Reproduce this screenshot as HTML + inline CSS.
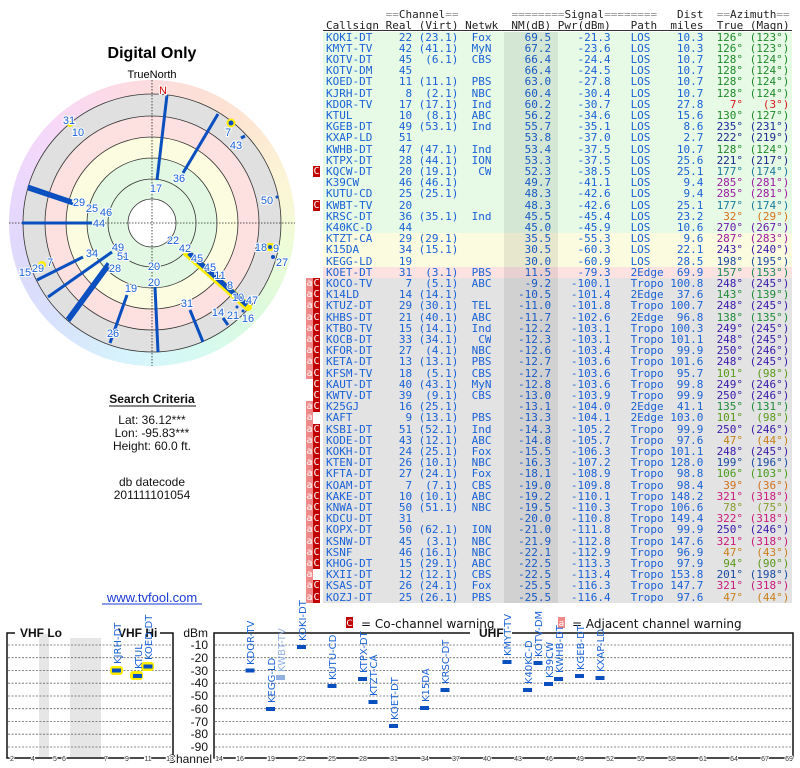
<!DOCTYPE html>
<html><head><meta charset="utf-8">
<style>
body{margin:0;width:800px;height:768px;background:#fff;position:relative;overflow:hidden;font-family:"DejaVu Sans","Liberation Sans",sans-serif;}
.abs{position:absolute;}
table.t{position:absolute;left:306px;top:31.5px;border-collapse:collapse;border-spacing:0;font-family:"DejaVu Sans Mono","Liberation Mono",monospace;font-size:11px;color:#1a62d6;table-layout:fixed;}
table.t tr{height:11.2px;}
table.t td{padding:0;border:0;height:11.2px;line-height:11.2px;white-space:pre;overflow:hidden;vertical-align:top;}
td.wa{width:7px;text-align:center;font-family:"DejaVu Sans Mono",monospace;font-size:10px;color:#fff;}
td.wc{width:7px;text-align:center;font-family:"DejaVu Sans Mono",monospace;font-size:10px;color:#fff;}
td.gap{width:3px;background:#fff;}
td.a{background:#f08a8a;} td.c{background:#c00000;} td.n{background:#fff;}
td.c1{width:59.6px;padding-left:3px !important;text-align:left;}
td.c2{width:26.5px;text-align:right;}
td.c3{width:46.3px;text-align:right;}
td.c4{width:33.1px;text-align:right;}
td.c5{width:59.6px;text-align:right;}
td.c6{width:59.6px;text-align:right;}
td.c7{width:39.7px;padding-left:19.9px !important;text-align:left;}
td.c8{width:33.1px;text-align:right;}
td.c9{width:39.7px;text-align:right;}
td.c10{width:46.3px;text-align:right;padding-right:3px !important;}
tr.g td.b{background:#e6fae6;} tr.y td.b{background:#fbfbdf;} tr.p td.b{background:#fde2e2;} tr.x td.b{background:#e3e3e3;}
.hd{position:absolute;left:326px;font-family:"DejaVu Sans Mono","Liberation Mono",monospace;font-size:11px;white-space:pre;color:#222;line-height:11px;}
.eq{color:#999;}
</style></head><body>

<svg class="abs" style="left:0;top:0" width="800" height="768" xmlns="http://www.w3.org/2000/svg">
<text x="152" y="58" text-anchor="middle" font-family="Liberation Sans,sans-serif" font-weight="bold" font-size="16">Digital Only</text>
<text x="152" y="78" text-anchor="middle" font-family="Liberation Sans,sans-serif" font-size="11">TrueNorth</text>
<foreignObject x="9" y="80" width="286" height="286"><div xmlns="http://www.w3.org/1999/xhtml" style="width:286px;height:286px;border-radius:50%;background:conic-gradient(#fcdcdc 0deg,#fde4d2 40deg,#fcf6d6 75deg,#eefcd8 100deg,#dcfadc 130deg,#d6faf2 160deg,#d6f4fc 190deg,#d8e4fc 220deg,#dcdafc 250deg,#e8d8fc 280deg,#f6d8fa 310deg,#fcdae8 340deg,#fcdcdc 360deg);"></div></foreignObject>
<circle cx="152" cy="223" r="129" fill="#e0e0e0"/>
<circle cx="152" cy="223" r="107" fill="#fde0e0"/>
<circle cx="152" cy="223" r="86" fill="#fcfce0"/>
<circle cx="152" cy="223" r="65" fill="#e2f8e2"/>
<circle cx="152" cy="223" r="24" fill="#fff"/>
<g fill="none" stroke="#333" stroke-width="0.8">
<circle cx="152" cy="223" r="129"/><circle cx="152" cy="223" r="107"/><circle cx="152" cy="223" r="86"/><circle cx="152" cy="223" r="65"/><circle cx="152" cy="223" r="44"/><circle cx="152" cy="223" r="24"/>
</g>
<g stroke="#222" stroke-width="0.8" stroke-dasharray="1.5,1.5">
<line x1="9" y1="223" x2="295" y2="223"/><line x1="152" y1="80" x2="152" y2="366"/>
</g>
<g stroke="#ffee00" stroke-width="8" stroke-linecap="round" fill="none">
<line x1="187" y1="253" x2="248" y2="307"/>
</g>
<circle cx="231" cy="123" r="4.5" fill="#ffee00"/>
<ellipse cx="270" cy="247" rx="7" ry="4" fill="#ffee00"/>
<circle cx="70" cy="124" r="3" fill="#ffee00"/>
<circle cx="42" cy="265" r="4" fill="#ffee00"/>
<g stroke="#0a4fc0" stroke-width="3" fill="none">
<line x1="167" y1="95" x2="157" y2="180"/>
<line x1="218" y1="114" x2="183" y2="173"/>
<line x1="241" y1="138" x2="245" y2="136"/>
<line x1="28" y1="186" x2="72" y2="201"/>
<line x1="28" y1="189" x2="73" y2="204"/>
<line x1="22" y1="223" x2="92" y2="223"/>
<line x1="37" y1="280" x2="83" y2="257"/>
<line x1="48" y1="297" x2="112" y2="252"/>
<line x1="67" y1="319" x2="108" y2="263"/>
<line x1="69" y1="321" x2="110" y2="265"/>
<line x1="110" y1="343" x2="127" y2="295"/>
<line x1="155" y1="287" x2="158" y2="352"/>
<line x1="190" y1="310" x2="203" y2="342"/>
<line x1="223" y1="318" x2="228" y2="325"/>
<line x1="189" y1="253" x2="247" y2="305" stroke-width="5"/>
</g>
<g fill="#0a4fc0"><circle cx="231" cy="123" r="2.5"/><circle cx="277" cy="197" r="1.5"/><circle cx="270" cy="247" r="2"/><circle cx="273" cy="257" r="2"/><circle cx="237" cy="307" r="1.5"/><circle cx="243" cy="311" r="1.5"/><circle cx="154" cy="266" r="2"/></g>
<g font-family="Liberation Sans,sans-serif" font-size="11" fill="#1a62d6" stroke="#fff" stroke-width="2" paint-order="stroke" text-anchor="middle">
<text x="163" y="94" fill="#d00000">N</text>
<text x="156" y="192">17</text><text x="179" y="182">36</text><text x="228" y="136">7</text><text x="236" y="149">43</text>
<text x="267" y="204">50</text><text x="261" y="251">18</text><text x="276" y="252">9</text><text x="282" y="266">27</text>
<text x="69" y="124">31</text><text x="78" y="136">10</text>
<text x="79" y="206">29</text><text x="92" y="212">25</text><text x="106" y="216">46</text><text x="99" y="227">44</text>
<text x="92" y="257">34</text><text x="118" y="251">49</text><text x="123" y="260">51</text><text x="115" y="272">28</text>
<text x="131" y="292">19</text><text x="113" y="337">26</text><text x="154" y="270">20</text><text x="154" y="286">20</text>
<text x="187" y="307">31</text><text x="218" y="316">14</text><text x="233" y="319">21</text><text x="248" y="322">16</text>
<text x="25" y="276">15</text><text x="38" y="272">29</text><text x="50" y="266">7</text>
<text x="173" y="244">22</text><text x="185" y="252">42</text><text x="197" y="262">45</text><text x="210" y="271">45</text><text x="220" y="279">11</text><text x="230" y="289">8</text><text x="238" y="301">10</text><text x="252" y="304">47</text>
</g>
<g font-family="Liberation Sans,sans-serif" font-size="12" text-anchor="middle" fill="#111">
<text x="152" y="403" font-weight="bold">Search Criteria</text>
<line x1="109" y1="406" x2="196" y2="406" stroke="#111" stroke-width="1"/>
<text x="152" y="424">Lat: 36.12***</text><text x="152" y="437">Lon: -95.83***</text><text x="152" y="450">Height: 60.0 ft.</text>
<text x="152" y="486">db datecode</text><text x="152" y="499">201111101054</text>
<text x="152" y="602" font-size="13" fill="#1a3ad6">www.tvfool.com</text>
<line x1="102" y1="604" x2="202" y2="604" stroke="#1a3ad6" stroke-width="1"/>
</g>
<rect x="346" y="617" width="7" height="11" fill="#c00000"/><text x="349.5" y="626" font-size="9" fill="#fff" text-anchor="middle">C</text>
<text x="361" y="628" font-size="12" fill="#111">= Co-channel warning</text>
<rect x="558" y="617" width="7" height="11" fill="#f08a8a"/><text x="561.5" y="626" font-size="9" fill="#fff" text-anchor="middle">a</text>
<text x="572" y="628" font-size="12" fill="#111">= Adjacent channel warning</text>
<rect x="39" y="634" width="10" height="123" fill="#e6e6e6"/>
<rect x="70" y="634" width="31" height="123" fill="#e6e6e6"/>
<g stroke="#666" stroke-width="0.8" stroke-dasharray="2,1.5">
<line x1="8" y1="645" x2="173" y2="645"/><line x1="8" y1="657.7" x2="173" y2="657.7"/><line x1="8" y1="670.5" x2="173" y2="670.5"/><line x1="8" y1="683.2" x2="173" y2="683.2"/><line x1="8" y1="696" x2="173" y2="696"/><line x1="8" y1="708.7" x2="173" y2="708.7"/><line x1="8" y1="721.5" x2="173" y2="721.5"/><line x1="8" y1="734.2" x2="173" y2="734.2"/><line x1="8" y1="747" x2="173" y2="747"/>
<line x1="215" y1="645" x2="792" y2="645"/><line x1="215" y1="657.7" x2="792" y2="657.7"/><line x1="215" y1="670.5" x2="792" y2="670.5"/><line x1="215" y1="683.2" x2="792" y2="683.2"/><line x1="215" y1="696" x2="792" y2="696"/><line x1="215" y1="708.7" x2="792" y2="708.7"/><line x1="215" y1="721.5" x2="792" y2="721.5"/><line x1="215" y1="734.2" x2="792" y2="734.2"/><line x1="215" y1="747" x2="792" y2="747"/>
</g>
<g fill="none" stroke="#111" stroke-width="1.5">
<path d="M15,633 H7 V758 H173 V633 H160"/><path d="M63,633 H106"/>
<path d="M470,633 H214 V758 H793 V633 H512"/>
</g>
<rect x="60" y="626" width="50" height="12" fill="#fff"/>
<g font-family="Liberation Sans,sans-serif" font-weight="bold" font-size="12" fill="#111">
<text x="20" y="637">VHF Lo</text><text x="118" y="637">VHF Hi</text><text x="479" y="637">UHF</text>
</g>
<g font-family="Liberation Sans,sans-serif" font-size="12" fill="#111" text-anchor="end">
<text x="208" y="637">dBm</text>
<text x="208" y="649">-10</text><text x="208" y="662">-20</text><text x="208" y="675">-30</text><text x="208" y="687">-40</text><text x="208" y="700">-50</text><text x="208" y="713">-60</text><text x="208" y="726">-70</text><text x="208" y="738">-80</text><text x="208" y="751">-90</text>
<text x="212" y="763">Channel</text>
</g>
<g font-family="Liberation Sans,sans-serif" font-size="7" fill="#333" text-anchor="middle" stroke="#fff" stroke-width="2" paint-order="stroke">
<text x="12" y="761">2</text><text x="33" y="761">4</text><text x="55" y="761">5</text><text x="64" y="761">6</text><text x="106" y="761">7</text><text x="127" y="761">9</text><text x="148" y="761">11</text><text x="170" y="761">13</text>
<text x="219" y="761">14</text><text x="240" y="761">16</text><text x="271" y="761">19</text><text x="302" y="761">22</text><text x="332" y="761">25</text><text x="363" y="761">28</text><text x="394" y="761">31</text><text x="425" y="761">34</text><text x="456" y="761">37</text><text x="487" y="761">40</text><text x="518" y="761">43</text><text x="549" y="761">46</text><text x="580" y="761">49</text><text x="610" y="761">52</text><text x="641" y="761">55</text><text x="672" y="761">58</text><text x="703" y="761">61</text><text x="734" y="761">64</text><text x="765" y="761">67</text><text x="789" y="761">69</text>
</g>
<g fill="#ffee00"><rect x="110" y="666" width="13" height="9" rx="3"/><rect x="130" y="671" width="13" height="9" rx="3"/><rect x="141" y="662" width="13" height="9" rx="3"/></g>
<g fill="#0a4fc0">
<rect x="112" y="668.5" width="9" height="4"/><rect x="133" y="674" width="9" height="4"/><rect x="143.5" y="664.5" width="9" height="4"/>
<rect x="245.5" y="668.5" width="9" height="4"/><rect x="266" y="707" width="9" height="4"/><rect x="297" y="645" width="9" height="4"/><rect x="327.5" y="684" width="9" height="4"/><rect x="358" y="677" width="9" height="4"/><rect x="368.5" y="700" width="9" height="4"/><rect x="389" y="724" width="9" height="4"/><rect x="420" y="706" width="9" height="4"/><rect x="440.5" y="688" width="9" height="4"/><rect x="502.5" y="660" width="9" height="4"/><rect x="523" y="688" width="9" height="4"/><rect x="533.5" y="661" width="9" height="4"/><rect x="544" y="682" width="9" height="4"/><rect x="554" y="677" width="9" height="4"/><rect x="575" y="674" width="9" height="4"/><rect x="595.5" y="676" width="9" height="4"/>
</g>
<rect x="276" y="675" width="9" height="5" fill="#8fb0e0"/>
<g font-family="DejaVu Sans,sans-serif" font-size="10" fill="#1a62d6">
<text transform="translate(121,664) rotate(-90)">KJRH-DT</text>
<text transform="translate(142,669) rotate(-90)">KTUL</text>
<text transform="translate(152,660) rotate(-90)">KOED-DT</text>
<text transform="translate(254,665) rotate(-90)">KDOR-TV</text>
<text transform="translate(275,703) rotate(-90)">KEGG-LD</text>
<text transform="translate(285,672) rotate(-90)" fill="#8fb0e0">KWBT-TV</text>
<text transform="translate(306,641) rotate(-90)">KOKI-DT</text>
<text transform="translate(336,680) rotate(-90)">KUTU-CD</text>
<text transform="translate(367,673) rotate(-90)">KTPX-DT</text>
<text transform="translate(377,696) rotate(-90)">KTZT-CA</text>
<text transform="translate(398,720) rotate(-90)">KOET-DT</text>
<text transform="translate(429,702) rotate(-90)">K15DA</text>
<text transform="translate(449,684) rotate(-90)">KRSC-DT</text>
<text transform="translate(511,656) rotate(-90)">KMYT-TV</text>
<text transform="translate(532,684) rotate(-90)">K40KC-D</text>
<text transform="translate(542,657) rotate(-90)">KOTV-DM</text>
<text transform="translate(553,678) rotate(-90)">K39CW</text>
<text transform="translate(563,673) rotate(-90)">KWHB-DT</text>
<text transform="translate(584,670) rotate(-90)">KGEB-DT</text>
<text transform="translate(604,672) rotate(-90)">KXAP-LD</text>
</g>
</svg>

<div class="hd" style="top:9px"><span class="eq">         ==</span>Channel<span class="eq">==</span>        <span class="eq">========</span>Signal<span class="eq">========</span>   Dist  <span class="eq">==</span>Azimuth<span class="eq">==</span></div>
<div class="hd" style="top:20px">Callsign Real (Virt) Netwk  NM(dB) Pwr(dBm)   Path  miles  True (Magn)</div>
<div class="abs" style="left:323px;top:30px;width:469px;height:1px;background:#333"></div>

<table class="t">
<tr class="g"><td class="wa n"></td><td class="wc n"></td><td class="gap"></td><td class="b c1">KOKI-DT</td><td class="b c2">22</td><td class="b c3">(23.1)</td><td class="b c4">Fox</td><td class="b c5">69.5</td><td class="b c6">-21.3</td><td class="b c7">LOS</td><td class="b c8">10.3</td><td class="b c9" style="color:#1f8a2a">126°</td><td class="b c10" style="color:#1f8a2a">(123°)</td></tr>
<tr class="g"><td class="wa n"></td><td class="wc n"></td><td class="gap"></td><td class="b c1">KMYT-TV</td><td class="b c2">42</td><td class="b c3">(41.1)</td><td class="b c4">MyN</td><td class="b c5">67.2</td><td class="b c6">-23.6</td><td class="b c7">LOS</td><td class="b c8">10.3</td><td class="b c9" style="color:#1f8a2a">126°</td><td class="b c10" style="color:#1f8a2a">(123°)</td></tr>
<tr class="g"><td class="wa n"></td><td class="wc n"></td><td class="gap"></td><td class="b c1">KOTV-DT</td><td class="b c2">45</td><td class="b c3">(6.1)</td><td class="b c4">CBS</td><td class="b c5">66.4</td><td class="b c6">-24.4</td><td class="b c7">LOS</td><td class="b c8">10.7</td><td class="b c9" style="color:#1f8a2a">128°</td><td class="b c10" style="color:#1f8a2a">(124°)</td></tr>
<tr class="g"><td class="wa n"></td><td class="wc n"></td><td class="gap"></td><td class="b c1">KOTV-DM</td><td class="b c2">45</td><td class="b c3"></td><td class="b c4"></td><td class="b c5">66.4</td><td class="b c6">-24.5</td><td class="b c7">LOS</td><td class="b c8">10.7</td><td class="b c9" style="color:#1f8a2a">128°</td><td class="b c10" style="color:#1f8a2a">(124°)</td></tr>
<tr class="g"><td class="wa n"></td><td class="wc n"></td><td class="gap"></td><td class="b c1">KOED-DT</td><td class="b c2">11</td><td class="b c3">(11.1)</td><td class="b c4">PBS</td><td class="b c5">63.0</td><td class="b c6">-27.8</td><td class="b c7">LOS</td><td class="b c8">10.7</td><td class="b c9" style="color:#1f8a2a">128°</td><td class="b c10" style="color:#1f8a2a">(124°)</td></tr>
<tr class="g"><td class="wa n"></td><td class="wc n"></td><td class="gap"></td><td class="b c1">KJRH-DT</td><td class="b c2">8</td><td class="b c3">(2.1)</td><td class="b c4">NBC</td><td class="b c5">60.4</td><td class="b c6">-30.4</td><td class="b c7">LOS</td><td class="b c8">10.7</td><td class="b c9" style="color:#1f8a2a">128°</td><td class="b c10" style="color:#1f8a2a">(124°)</td></tr>
<tr class="g"><td class="wa n"></td><td class="wc n"></td><td class="gap"></td><td class="b c1">KDOR-TV</td><td class="b c2">17</td><td class="b c3">(17.1)</td><td class="b c4">Ind</td><td class="b c5">60.2</td><td class="b c6">-30.7</td><td class="b c7">LOS</td><td class="b c8">27.8</td><td class="b c9" style="color:#d81a1a">7°</td><td class="b c10" style="color:#d81a1a">(3°)</td></tr>
<tr class="g"><td class="wa n"></td><td class="wc n"></td><td class="gap"></td><td class="b c1">KTUL</td><td class="b c2">10</td><td class="b c3">(8.1)</td><td class="b c4">ABC</td><td class="b c5">56.2</td><td class="b c6">-34.6</td><td class="b c7">LOS</td><td class="b c8">15.6</td><td class="b c9" style="color:#1f8a2a">130°</td><td class="b c10" style="color:#1f8a2a">(127°)</td></tr>
<tr class="g"><td class="wa n"></td><td class="wc n"></td><td class="gap"></td><td class="b c1">KGEB-DT</td><td class="b c2">49</td><td class="b c3">(53.1)</td><td class="b c4">Ind</td><td class="b c5">55.7</td><td class="b c6">-35.1</td><td class="b c7">LOS</td><td class="b c8">8.6</td><td class="b c9" style="color:#1a2a9a">235°</td><td class="b c10" style="color:#1a2a9a">(231°)</td></tr>
<tr class="g"><td class="wa n"></td><td class="wc n"></td><td class="gap"></td><td class="b c1">KXAP-LD</td><td class="b c2">51</td><td class="b c3"></td><td class="b c4"></td><td class="b c5">53.8</td><td class="b c6">-37.0</td><td class="b c7">LOS</td><td class="b c8">2.7</td><td class="b c9" style="color:#1a2a8a">222°</td><td class="b c10" style="color:#1a2a8a">(219°)</td></tr>
<tr class="g"><td class="wa n"></td><td class="wc n"></td><td class="gap"></td><td class="b c1">KWHB-DT</td><td class="b c2">47</td><td class="b c3">(47.1)</td><td class="b c4">Ind</td><td class="b c5">53.4</td><td class="b c6">-37.5</td><td class="b c7">LOS</td><td class="b c8">10.7</td><td class="b c9" style="color:#1f8a2a">128°</td><td class="b c10" style="color:#1f8a2a">(124°)</td></tr>
<tr class="g"><td class="wa n"></td><td class="wc n"></td><td class="gap"></td><td class="b c1">KTPX-DT</td><td class="b c2">28</td><td class="b c3">(44.1)</td><td class="b c4">ION</td><td class="b c5">53.3</td><td class="b c6">-37.5</td><td class="b c7">LOS</td><td class="b c8">25.6</td><td class="b c9" style="color:#1a2a8a">221°</td><td class="b c10" style="color:#1a2a8a">(217°)</td></tr>
<tr class="g"><td class="wa n"></td><td class="wc c">C</td><td class="gap"></td><td class="b c1">KQCW-DT</td><td class="b c2">20</td><td class="b c3">(19.1)</td><td class="b c4">CW</td><td class="b c5">52.3</td><td class="b c6">-38.5</td><td class="b c7">LOS</td><td class="b c8">25.1</td><td class="b c9" style="color:#1a7a9a">177°</td><td class="b c10" style="color:#1a7a9a">(174°)</td></tr>
<tr class="g"><td class="wa n"></td><td class="wc n"></td><td class="gap"></td><td class="b c1">K39CW</td><td class="b c2">46</td><td class="b c3">(46.1)</td><td class="b c4"></td><td class="b c5">49.7</td><td class="b c6">-41.1</td><td class="b c7">LOS</td><td class="b c8">9.4</td><td class="b c9" style="color:#9a1aa0">285°</td><td class="b c10" style="color:#9a1aa0">(281°)</td></tr>
<tr class="g"><td class="wa n"></td><td class="wc n"></td><td class="gap"></td><td class="b c1">KUTU-CD</td><td class="b c2">25</td><td class="b c3">(25.1)</td><td class="b c4"></td><td class="b c5">48.3</td><td class="b c6">-42.6</td><td class="b c7">LOS</td><td class="b c8">9.4</td><td class="b c9" style="color:#9a1aa0">285°</td><td class="b c10" style="color:#9a1aa0">(281°)</td></tr>
<tr class="g"><td class="wa n"></td><td class="wc c">C</td><td class="gap"></td><td class="b c1">KWBT-TV</td><td class="b c2">20</td><td class="b c3"></td><td class="b c4"></td><td class="b c5">48.3</td><td class="b c6">-42.6</td><td class="b c7">LOS</td><td class="b c8">25.1</td><td class="b c9" style="color:#1a7a9a">177°</td><td class="b c10" style="color:#1a7a9a">(174°)</td></tr>
<tr class="g"><td class="wa n"></td><td class="wc n"></td><td class="gap"></td><td class="b c1">KRSC-DT</td><td class="b c2">36</td><td class="b c3">(35.1)</td><td class="b c4">Ind</td><td class="b c5">45.5</td><td class="b c6">-45.4</td><td class="b c7">LOS</td><td class="b c8">23.2</td><td class="b c9" style="color:#d8701a">32°</td><td class="b c10" style="color:#d8701a">(29°)</td></tr>
<tr class="g"><td class="wa n"></td><td class="wc n"></td><td class="gap"></td><td class="b c1">K40KC-D</td><td class="b c2">44</td><td class="b c3"></td><td class="b c4"></td><td class="b c5">45.0</td><td class="b c6">-45.9</td><td class="b c7">LOS</td><td class="b c8">10.6</td><td class="b c9" style="color:#6a1aa8">270°</td><td class="b c10" style="color:#6a1aa8">(267°)</td></tr>
<tr class="y"><td class="wa n"></td><td class="wc n"></td><td class="gap"></td><td class="b c1">KTZT-CA</td><td class="b c2">29</td><td class="b c3">(29.1)</td><td class="b c4"></td><td class="b c5">35.5</td><td class="b c6">-55.3</td><td class="b c7">LOS</td><td class="b c8">9.6</td><td class="b c9" style="color:#9a1aa0">287°</td><td class="b c10" style="color:#9a1aa0">(283°)</td></tr>
<tr class="y"><td class="wa n"></td><td class="wc n"></td><td class="gap"></td><td class="b c1">K15DA</td><td class="b c2">34</td><td class="b c3">(15.1)</td><td class="b c4"></td><td class="b c5">30.5</td><td class="b c6">-60.3</td><td class="b c7">LOS</td><td class="b c8">22.1</td><td class="b c9" style="color:#3a1aa8">243°</td><td class="b c10" style="color:#3a1aa8">(240°)</td></tr>
<tr class="y"><td class="wa n"></td><td class="wc n"></td><td class="gap"></td><td class="b c1">KEGG-LD</td><td class="b c2">19</td><td class="b c3"></td><td class="b c4"></td><td class="b c5">30.0</td><td class="b c6">-60.9</td><td class="b c7">LOS</td><td class="b c8">28.5</td><td class="b c9" style="color:#1a4aa0">198°</td><td class="b c10" style="color:#1a4aa0">(195°)</td></tr>
<tr class="p"><td class="wa n"></td><td class="wc n"></td><td class="gap"></td><td class="b c1">KOET-DT</td><td class="b c2">31</td><td class="b c3">(3.1)</td><td class="b c4">PBS</td><td class="b c5">11.5</td><td class="b c6">-79.3</td><td class="b c7">2Edge</td><td class="b c8">69.9</td><td class="b c9" style="color:#1a8a5a">157°</td><td class="b c10" style="color:#1a8a5a">(153°)</td></tr>
<tr class="x"><td class="wa a">a</td><td class="wc c">C</td><td class="gap"></td><td class="b c1">KOCO-TV</td><td class="b c2">7</td><td class="b c3">(5.1)</td><td class="b c4">ABC</td><td class="b c5">-9.2</td><td class="b c6">-100.1</td><td class="b c7">Tropo</td><td class="b c8">100.8</td><td class="b c9" style="color:#3a1aa8">248°</td><td class="b c10" style="color:#3a1aa8">(245°)</td></tr>
<tr class="x"><td class="wa a">a</td><td class="wc c">C</td><td class="gap"></td><td class="b c1">K14LD</td><td class="b c2">14</td><td class="b c3">(14.1)</td><td class="b c4"></td><td class="b c5">-10.5</td><td class="b c6">-101.4</td><td class="b c7">2Edge</td><td class="b c8">37.6</td><td class="b c9" style="color:#1f8a3a">143°</td><td class="b c10" style="color:#1f8a3a">(139°)</td></tr>
<tr class="x"><td class="wa a">a</td><td class="wc c">C</td><td class="gap"></td><td class="b c1">KTUZ-DT</td><td class="b c2">29</td><td class="b c3">(30.1)</td><td class="b c4">TEL</td><td class="b c5">-11.0</td><td class="b c6">-101.8</td><td class="b c7">Tropo</td><td class="b c8">100.7</td><td class="b c9" style="color:#3a1aa8">248°</td><td class="b c10" style="color:#3a1aa8">(245°)</td></tr>
<tr class="x"><td class="wa a">a</td><td class="wc c">C</td><td class="gap"></td><td class="b c1">KHBS-DT</td><td class="b c2">21</td><td class="b c3">(40.1)</td><td class="b c4">ABC</td><td class="b c5">-11.7</td><td class="b c6">-102.6</td><td class="b c7">2Edge</td><td class="b c8">96.8</td><td class="b c9" style="color:#1f8a3a">138°</td><td class="b c10" style="color:#1f8a3a">(135°)</td></tr>
<tr class="x"><td class="wa a">a</td><td class="wc c">C</td><td class="gap"></td><td class="b c1">KTBO-TV</td><td class="b c2">15</td><td class="b c3">(14.1)</td><td class="b c4">Ind</td><td class="b c5">-12.2</td><td class="b c6">-103.1</td><td class="b c7">Tropo</td><td class="b c8">100.3</td><td class="b c9" style="color:#3a1aa8">249°</td><td class="b c10" style="color:#3a1aa8">(245°)</td></tr>
<tr class="x"><td class="wa a">a</td><td class="wc c">C</td><td class="gap"></td><td class="b c1">KOCB-DT</td><td class="b c2">33</td><td class="b c3">(34.1)</td><td class="b c4">CW</td><td class="b c5">-12.3</td><td class="b c6">-103.1</td><td class="b c7">Tropo</td><td class="b c8">101.1</td><td class="b c9" style="color:#3a1aa8">248°</td><td class="b c10" style="color:#3a1aa8">(245°)</td></tr>
<tr class="x"><td class="wa a">a</td><td class="wc c">C</td><td class="gap"></td><td class="b c1">KFOR-DT</td><td class="b c2">27</td><td class="b c3">(4.1)</td><td class="b c4">NBC</td><td class="b c5">-12.6</td><td class="b c6">-103.4</td><td class="b c7">Tropo</td><td class="b c8">99.9</td><td class="b c9" style="color:#3a1aa8">250°</td><td class="b c10" style="color:#3a1aa8">(246°)</td></tr>
<tr class="x"><td class="wa a">a</td><td class="wc c">C</td><td class="gap"></td><td class="b c1">KETA-DT</td><td class="b c2">13</td><td class="b c3">(13.1)</td><td class="b c4">PBS</td><td class="b c5">-12.7</td><td class="b c6">-103.6</td><td class="b c7">Tropo</td><td class="b c8">101.6</td><td class="b c9" style="color:#3a1aa8">248°</td><td class="b c10" style="color:#3a1aa8">(245°)</td></tr>
<tr class="x"><td class="wa a">a</td><td class="wc c">C</td><td class="gap"></td><td class="b c1">KFSM-TV</td><td class="b c2">18</td><td class="b c3">(5.1)</td><td class="b c4">CBS</td><td class="b c5">-12.7</td><td class="b c6">-103.6</td><td class="b c7">Tropo</td><td class="b c8">95.7</td><td class="b c9" style="color:#5a9a1a">101°</td><td class="b c10" style="color:#5a9a1a">(98°)</td></tr>
<tr class="x"><td class="wa n"></td><td class="wc c">C</td><td class="gap"></td><td class="b c1">KAUT-DT</td><td class="b c2">40</td><td class="b c3">(43.1)</td><td class="b c4">MyN</td><td class="b c5">-12.8</td><td class="b c6">-103.6</td><td class="b c7">Tropo</td><td class="b c8">99.8</td><td class="b c9" style="color:#3a1aa8">249°</td><td class="b c10" style="color:#3a1aa8">(246°)</td></tr>
<tr class="x"><td class="wa n"></td><td class="wc c">C</td><td class="gap"></td><td class="b c1">KWTV-DT</td><td class="b c2">39</td><td class="b c3">(9.1)</td><td class="b c4">CBS</td><td class="b c5">-13.0</td><td class="b c6">-103.9</td><td class="b c7">Tropo</td><td class="b c8">99.9</td><td class="b c9" style="color:#3a1aa8">250°</td><td class="b c10" style="color:#3a1aa8">(246°)</td></tr>
<tr class="x"><td class="wa a">a</td><td class="wc c">C</td><td class="gap"></td><td class="b c1">K25GJ</td><td class="b c2">16</td><td class="b c3">(25.1)</td><td class="b c4"></td><td class="b c5">-13.1</td><td class="b c6">-104.0</td><td class="b c7">2Edge</td><td class="b c8">41.1</td><td class="b c9" style="color:#1f8a3a">135°</td><td class="b c10" style="color:#1f8a3a">(131°)</td></tr>
<tr class="x"><td class="wa a">a</td><td class="wc n"></td><td class="gap"></td><td class="b c1">KAFT</td><td class="b c2">9</td><td class="b c3">(13.1)</td><td class="b c4">PBS</td><td class="b c5">-13.3</td><td class="b c6">-104.1</td><td class="b c7">2Edge</td><td class="b c8">103.0</td><td class="b c9" style="color:#5a9a1a">101°</td><td class="b c10" style="color:#5a9a1a">(98°)</td></tr>
<tr class="x"><td class="wa a">a</td><td class="wc c">C</td><td class="gap"></td><td class="b c1">KSBI-DT</td><td class="b c2">51</td><td class="b c3">(52.1)</td><td class="b c4">Ind</td><td class="b c5">-14.3</td><td class="b c6">-105.2</td><td class="b c7">Tropo</td><td class="b c8">99.9</td><td class="b c9" style="color:#3a1aa8">250°</td><td class="b c10" style="color:#3a1aa8">(246°)</td></tr>
<tr class="x"><td class="wa a">a</td><td class="wc c">C</td><td class="gap"></td><td class="b c1">KODE-DT</td><td class="b c2">43</td><td class="b c3">(12.1)</td><td class="b c4">ABC</td><td class="b c5">-14.8</td><td class="b c6">-105.7</td><td class="b c7">Tropo</td><td class="b c8">97.6</td><td class="b c9" style="color:#c8801a">47°</td><td class="b c10" style="color:#c8801a">(44°)</td></tr>
<tr class="x"><td class="wa a">a</td><td class="wc c">C</td><td class="gap"></td><td class="b c1">KOKH-DT</td><td class="b c2">24</td><td class="b c3">(25.1)</td><td class="b c4">Fox</td><td class="b c5">-15.5</td><td class="b c6">-106.3</td><td class="b c7">Tropo</td><td class="b c8">101.1</td><td class="b c9" style="color:#3a1aa8">248°</td><td class="b c10" style="color:#3a1aa8">(245°)</td></tr>
<tr class="x"><td class="wa a">a</td><td class="wc c">C</td><td class="gap"></td><td class="b c1">KTEN-DT</td><td class="b c2">26</td><td class="b c3">(10.1)</td><td class="b c4">NBC</td><td class="b c5">-16.3</td><td class="b c6">-107.2</td><td class="b c7">Tropo</td><td class="b c8">128.0</td><td class="b c9" style="color:#1a4aa0">199°</td><td class="b c10" style="color:#1a4aa0">(196°)</td></tr>
<tr class="x"><td class="wa a">a</td><td class="wc c">C</td><td class="gap"></td><td class="b c1">KFTA-DT</td><td class="b c2">27</td><td class="b c3">(24.1)</td><td class="b c4">Fox</td><td class="b c5">-18.1</td><td class="b c6">-108.9</td><td class="b c7">Tropo</td><td class="b c8">98.8</td><td class="b c9" style="color:#4a9a1a">106°</td><td class="b c10" style="color:#4a9a1a">(103°)</td></tr>
<tr class="x"><td class="wa a">a</td><td class="wc c">C</td><td class="gap"></td><td class="b c1">KOAM-DT</td><td class="b c2">7</td><td class="b c3">(7.1)</td><td class="b c4">CBS</td><td class="b c5">-19.0</td><td class="b c6">-109.8</td><td class="b c7">Tropo</td><td class="b c8">98.4</td><td class="b c9" style="color:#d0701a">39°</td><td class="b c10" style="color:#d0701a">(36°)</td></tr>
<tr class="x"><td class="wa a">a</td><td class="wc c">C</td><td class="gap"></td><td class="b c1">KAKE-DT</td><td class="b c2">10</td><td class="b c3">(10.1)</td><td class="b c4">ABC</td><td class="b c5">-19.2</td><td class="b c6">-110.1</td><td class="b c7">Tropo</td><td class="b c8">148.2</td><td class="b c9" style="color:#c81a7a">321°</td><td class="b c10" style="color:#c81a7a">(318°)</td></tr>
<tr class="x"><td class="wa a">a</td><td class="wc c">C</td><td class="gap"></td><td class="b c1">KNWA-DT</td><td class="b c2">50</td><td class="b c3">(51.1)</td><td class="b c4">NBC</td><td class="b c5">-19.5</td><td class="b c6">-110.3</td><td class="b c7">Tropo</td><td class="b c8">106.6</td><td class="b c9" style="color:#8a9a2a">78°</td><td class="b c10" style="color:#8a9a2a">(75°)</td></tr>
<tr class="x"><td class="wa a">a</td><td class="wc c">C</td><td class="gap"></td><td class="b c1">KDCU-DT</td><td class="b c2">31</td><td class="b c3"></td><td class="b c4"></td><td class="b c5">-20.0</td><td class="b c6">-110.8</td><td class="b c7">Tropo</td><td class="b c8">149.4</td><td class="b c9" style="color:#c81a7a">322°</td><td class="b c10" style="color:#c81a7a">(318°)</td></tr>
<tr class="x"><td class="wa a">a</td><td class="wc c">C</td><td class="gap"></td><td class="b c1">KOPX-DT</td><td class="b c2">50</td><td class="b c3">(62.1)</td><td class="b c4">ION</td><td class="b c5">-21.0</td><td class="b c6">-111.8</td><td class="b c7">Tropo</td><td class="b c8">99.9</td><td class="b c9" style="color:#3a1aa8">250°</td><td class="b c10" style="color:#3a1aa8">(246°)</td></tr>
<tr class="x"><td class="wa a">a</td><td class="wc c">C</td><td class="gap"></td><td class="b c1">KSNW-DT</td><td class="b c2">45</td><td class="b c3">(3.1)</td><td class="b c4">NBC</td><td class="b c5">-21.9</td><td class="b c6">-112.8</td><td class="b c7">Tropo</td><td class="b c8">147.6</td><td class="b c9" style="color:#c81a7a">321°</td><td class="b c10" style="color:#c81a7a">(318°)</td></tr>
<tr class="x"><td class="wa a">a</td><td class="wc c">C</td><td class="gap"></td><td class="b c1">KSNF</td><td class="b c2">46</td><td class="b c3">(16.1)</td><td class="b c4">NBC</td><td class="b c5">-22.1</td><td class="b c6">-112.9</td><td class="b c7">Tropo</td><td class="b c8">96.9</td><td class="b c9" style="color:#c8801a">47°</td><td class="b c10" style="color:#c8801a">(43°)</td></tr>
<tr class="x"><td class="wa a">a</td><td class="wc c">C</td><td class="gap"></td><td class="b c1">KHOG-DT</td><td class="b c2">15</td><td class="b c3">(29.1)</td><td class="b c4">ABC</td><td class="b c5">-22.5</td><td class="b c6">-113.3</td><td class="b c7">Tropo</td><td class="b c8">97.9</td><td class="b c9" style="color:#5a9a1a">94°</td><td class="b c10" style="color:#5a9a1a">(90°)</td></tr>
<tr class="x"><td class="wa a">a</td><td class="wc n"></td><td class="gap"></td><td class="b c1">KXII-DT</td><td class="b c2">12</td><td class="b c3">(12.1)</td><td class="b c4">CBS</td><td class="b c5">-22.5</td><td class="b c6">-113.4</td><td class="b c7">Tropo</td><td class="b c8">153.8</td><td class="b c9" style="color:#1a4aa0">201°</td><td class="b c10" style="color:#1a4aa0">(198°)</td></tr>
<tr class="x"><td class="wa a">a</td><td class="wc c">C</td><td class="gap"></td><td class="b c1">KSAS-DT</td><td class="b c2">26</td><td class="b c3">(24.1)</td><td class="b c4">Fox</td><td class="b c5">-25.5</td><td class="b c6">-116.3</td><td class="b c7">Tropo</td><td class="b c8">147.7</td><td class="b c9" style="color:#c81a7a">321°</td><td class="b c10" style="color:#c81a7a">(318°)</td></tr>
<tr class="x"><td class="wa a">a</td><td class="wc c">C</td><td class="gap"></td><td class="b c1">KOZJ-DT</td><td class="b c2">25</td><td class="b c3">(26.1)</td><td class="b c4">PBS</td><td class="b c5">-25.5</td><td class="b c6">-116.4</td><td class="b c7">Tropo</td><td class="b c8">97.6</td><td class="b c9" style="color:#c8801a">47°</td><td class="b c10" style="color:#c8801a">(44°)</td></tr>
</table>
<div class="abs" style="left:504px;top:31.5px;width:54px;height:571px;background:rgba(0,0,0,0.08);pointer-events:none"></div>
</body></html>
